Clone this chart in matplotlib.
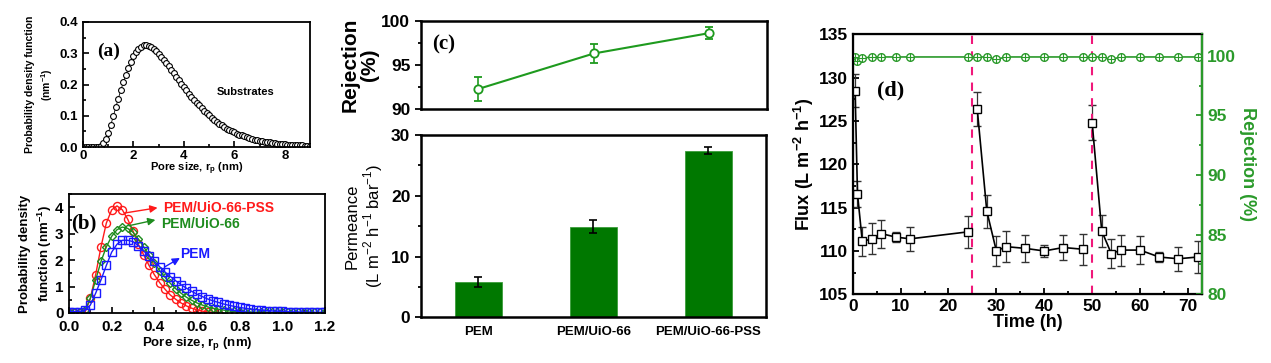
import matplotlib
matplotlib.use("Agg")
import matplotlib.pyplot as plt
from matplotlib.ticker import MultipleLocator
import numpy as np

plt.rcParams['font.family'] = ['Liberation Sans', 'DejaVu Sans']
plt.rcParams['mathtext.fontset'] = 'custom'
plt.rcParams['mathtext.rm'] = 'Liberation Sans'
plt.rcParams['mathtext.bf'] = 'Liberation Sans:bold'

# ---------------- data ----------------
# (a) substrates pore size distribution, r = 0.0 ... 9.0 step 0.1
a_r = [round(0.1 * i, 1) for i in range(91)]
a_pdf = [0.0, 0.0, 0.0, 0.0, 0.0, 0.0, 0.001,
         0.004, 0.012, 0.025, 0.045, 0.07, 0.098, 0.127, 0.155, 0.182, 0.207,
         0.23, 0.252, 0.272, 0.29, 0.304, 0.314, 0.321, 0.325, 0.325, 0.323,
         0.319, 0.313, 0.306, 0.298, 0.289, 0.279, 0.269, 0.258, 0.247, 0.236,
         0.225, 0.214, 0.203, 0.192, 0.181, 0.171, 0.161, 0.151, 0.142, 0.133,
         0.124, 0.116, 0.108, 0.101, 0.094, 0.087, 0.081, 0.075, 0.069, 0.064,
         0.059, 0.055, 0.051, 0.047, 0.043, 0.040, 0.037, 0.034, 0.031, 0.029,
         0.026, 0.024, 0.022, 0.020, 0.019, 0.017, 0.016, 0.015, 0.013, 0.012,
         0.011, 0.010, 0.009, 0.009, 0.008, 0.007, 0.007, 0.006, 0.006, 0.005,
         0.005, 0.004, 0.004, 0.004]

# (b) membranes pore size distributions, r = 0 ... 1.2 step 0.025
b_r = [round(0.025 * i, 3) for i in range(49)]
b_pss = [0.0, 0.0, 0.0, 0.02, 0.55, 1.45, 2.5, 3.4, 3.9, 4.05, 3.9, 3.55, 3.1,
         2.6, 2.2, 1.8, 1.45, 1.15, 0.9, 0.68, 0.52, 0.38, 0.27, 0.18, 0.12,
         0.07, 0.04, 0.02, 0.01]
b_uio = [0.05, 0.05, 0.05, 0.1, 0.55, 1.25, 1.95, 2.5, 2.9, 3.15, 3.25, 3.2,
         3.05, 2.8, 2.5, 2.2, 1.9, 1.6, 1.35, 1.12, 0.92, 0.75, 0.6, 0.48, 0.38,
         0.3, 0.23, 0.18, 0.14, 0.11, 0.08, 0.06, 0.05, 0.04, 0.04, 0.03, 0.03,
         0.03, 0.02, 0.02, 0.02, 0.02, 0.02, 0.02, 0.02, 0.02, 0.02, 0.02, 0.02]
b_pem = [0.05, 0.05, 0.05, 0.1, 0.3, 0.75, 1.25, 1.8, 2.3, 2.6, 2.75, 2.75,
         2.7, 2.55, 2.35, 2.15, 1.95, 1.75, 1.55, 1.38, 1.22, 1.07, 0.94, 0.82,
         0.71, 0.62, 0.53, 0.46, 0.4, 0.34, 0.29, 0.25, 0.21, 0.18, 0.15, 0.13,
         0.11, 0.09, 0.08, 0.07, 0.06, 0.05, 0.04, 0.04, 0.03, 0.03, 0.02, 0.02,
         0.02]

# (c) rejection and permeance
c_labels = ['PEM', 'PEM/UiO-66', 'PEM/UiO-66-PSS']
c_rej = [92.3, 96.3, 98.6]
c_rej_err = [1.4, 1.1, 0.7]
c_perm = [5.8, 14.9, 27.4]
c_perm_err = [0.8, 1.1, 0.6]

# (d) long-term flux and rejection; three cycles
d_t1 = [0.5, 1, 2, 4, 6, 9, 12, 24]
d_f1 = [128.5, 116.6, 111.1, 111.4, 112.0, 111.6, 111.4, 112.2]
d_e1 = [1.9, 1.5, 1.7, 1.8, 1.6, 0.6, 1.4, 1.8]
d_t2 = [26, 28, 30, 32, 36, 40, 44, 48]
d_f2 = [126.4, 114.6, 110.0, 110.5, 110.3, 110.0, 110.4, 110.2]
d_e2 = [2.0, 1.9, 1.7, 1.8, 1.6, 0.7, 1.4, 1.8]
d_t3 = [50, 52, 54, 56, 60, 64, 68, 72]
d_f3 = [124.8, 112.3, 109.7, 110.1, 110.1, 109.3, 109.1, 109.3]
d_e3 = [2.0, 1.8, 1.7, 1.8, 1.6, 0.6, 1.4, 1.8]
d_rt = d_t1 + d_t2 + d_t3
d_rej = [99.9, 99.6, 99.8, 99.9, 99.9, 99.9, 99.9, 99.9,
         99.9, 99.9, 99.7, 99.9, 99.9, 99.9, 99.9, 99.9,
         99.9, 99.9, 99.7, 99.9, 99.9, 99.9, 99.9, 99.9]
d_switch = [25, 50]

# ---------------- figure ----------------
W, H = 1271, 363
fig = plt.figure(figsize=(W / 100, H / 100), dpi=100)

def box(l, r, t, b):
    return [l / W, (H - b) / H, (r - l) / W, (b - t) / H]

serif = ['Liberation Serif', 'DejaVu Serif']
RED, GREEN, BLUE = '#ff1a1a', '#1e8c1e', '#1a1aff'

def style_ticks(ax, size, direction='in', width=1.2):
    ax.tick_params(which='both', direction=direction, labelsize=size, width=width)
    ax.tick_params(which='major', length=4)
    ax.tick_params(which='minor', length=2.5)
    for lab in ax.get_xticklabels() + ax.get_yticklabels():
        lab.set_fontweight('bold')

# ---- (a)
axa = fig.add_axes(box(83, 310, 22, 147))
axa.plot(a_r, a_pdf, '-', color='black', lw=0.6, marker='o', ms=4.2,
         mfc='white', mec='black', mew=0.8)
axa.set_xlim(0, 9)
axa.set_ylim(0, 0.4)
axa.set_xticks([0, 2, 4, 6, 8])
axa.set_yticks([0.0, 0.1, 0.2, 0.3, 0.4])
axa.yaxis.set_major_formatter(matplotlib.ticker.FormatStrFormatter('%.1f'))
axa.xaxis.set_minor_locator(MultipleLocator(1))
axa.yaxis.set_minor_locator(MultipleLocator(0.05))
style_ticks(axa, 9.5)
axa.tick_params(axis='x', pad=2)
for s in axa.spines.values():
    s.set_linewidth(1.3)
axa.set_xlabel('Pore size, r$_\\mathbf{p}$ (nm)', fontsize=8, fontweight='bold', labelpad=-1)
axa.set_ylabel('Probability density function\n(nm$^{\\mathbf{-1}}$)', fontsize=7.5,
               fontweight='bold', labelpad=3, linespacing=1.4)
axa.text(0.55, 0.307, '(a)', fontsize=14, fontweight='bold', family=serif, va='center')
axa.text(6.45, 0.175, 'Substrates', fontsize=8, fontweight='bold', ha='center', va='center')

# ---- (b)
axb = fig.add_axes(box(69, 325, 194, 313))
axb.plot(b_r[:len(b_pss)], b_pss, '-', color=RED, lw=1.0, marker='o', ms=5.8,
         mfc='none', mec=RED, mew=1.0)
axb.plot(b_r[:len(b_uio)], b_uio, '-', color=GREEN, lw=1.0, marker='D', ms=4.4,
         mfc='none', mec=GREEN, mew=1.0)
axb.plot(b_r[:len(b_pem)], b_pem, '-', color=BLUE, lw=1.0, marker='s', ms=5.8,
         mfc='none', mec=BLUE, mew=1.0)
axb.set_xlim(0, 1.2)
axb.set_ylim(0, 4.5)
axb.set_xticks(np.arange(0, 1.21, 0.2))
axb.xaxis.set_major_formatter(matplotlib.ticker.FormatStrFormatter('%.1f'))
axb.set_yticks([0, 1, 2, 3, 4])
axb.xaxis.set_minor_locator(MultipleLocator(0.1))
axb.yaxis.set_minor_locator(MultipleLocator(0.5))
style_ticks(axb, 11)
axb.tick_params(axis='x', pad=5)
axb.tick_params(axis='y', pad=4)
for s in axb.spines.values():
    s.set_linewidth(1.3)
axb.set_xlabel('Pore size, r$_\\mathbf{p}$ (nm)', fontsize=9.5, fontweight='bold', labelpad=1)
axb.set_ylabel('Probability density\nfunction (nm$^{\\mathbf{-1}}$)', fontsize=9.5,
               fontweight='bold', labelpad=1, linespacing=1.3)
axb.text(0.012, 3.4, '(b)', fontsize=15, fontweight='bold', family=serif, va='center')
ann = [('PEM/UiO-66-PSS', RED, (0.26, 3.78), (0.415, 3.98)),
       ('PEM/UiO-66', GREEN, (0.28, 3.3), (0.405, 3.52)),
       ('PEM', BLUE, (0.45, 1.75), (0.52, 2.08))]
for txt, col, p0, p1 in ann:
    axb.annotate('', xy=p1, xytext=p0,
                 arrowprops=dict(arrowstyle='-|>', color=col, lw=1.0,
                                 mutation_scale=11, shrinkA=0, shrinkB=0))
axb.text(0.44, 3.96, 'PEM/UiO-66-PSS', color=RED, fontsize=10, fontweight='bold', va='center')
axb.text(0.43, 3.37, 'PEM/UiO-66', color=GREEN, fontsize=10, fontweight='bold', va='center')
axb.text(0.523, 2.22, 'PEM', color=BLUE, fontsize=10, fontweight='bold', va='center')

# ---- (c) top: rejection
xc = np.arange(len(c_labels))
axc1 = fig.add_axes(box(420.7, 767, 20.7, 109.3))
axc1.errorbar(xc, c_rej, yerr=c_rej_err, color='#1e9a1e', lw=1.5, marker='o', ms=6,
              mfc='white', mec='#1e9a1e', mew=1.3, capsize=3, elinewidth=1.2, capthick=1.2)
axc1.set_xlim(-0.5, 2.5)
axc1.set_ylim(90, 100)
axc1.set_yticks([90, 95, 100])
axc1.yaxis.set_minor_locator(MultipleLocator(2.5))
axc1.set_xticks([])
style_ticks(axc1, 12.5, direction='out', width=1.3)
for s in axc1.spines.values():
    s.set_linewidth(1.8)
axc1.set_ylabel('Rejection\n(%)', fontsize=15, fontweight='bold', labelpad=2, linespacing=1.0)
axc1.text(-0.4, 97.3, '(c)', fontsize=15, fontweight='bold', family=serif, va='center')

# ---- (c) bottom: permeance
axc2 = fig.add_axes(box(420.7, 766, 135, 317.3))
axc2.bar(xc, c_perm, width=0.41, color='#007800', edgecolor='#3c9c3c', linewidth=0.6)
axc2.errorbar(xc, c_perm, yerr=c_perm_err, fmt='none', ecolor='black', elinewidth=1.2,
              capsize=3, capthick=1.2)
axc2.set_xlim(-0.5, 2.5)
axc2.set_ylim(0, 30)
axc2.set_yticks([0, 10, 20, 30])
axc2.yaxis.set_minor_locator(MultipleLocator(5))
axc2.set_xticks(xc)
axc2.set_xticklabels(c_labels)
style_ticks(axc2, 12.5, direction='out', width=1.3)
axc2.tick_params(axis='x', length=0, labelsize=9.5, pad=6)
for lab in axc2.get_xticklabels():
    lab.set_fontweight('bold')
for s in axc2.spines.values():
    s.set_linewidth(1.8)
axc2.set_ylabel('Permeance\n(L m$^{-2}$ h$^{-1}$ bar$^{-1}$)', fontsize=12, labelpad=4,
                linespacing=1.1)

# ---- (d)
axd = fig.add_axes(box(852.7, 1202.3, 34.3, 294.3))
for t, f, e in [(d_t1, d_f1, d_e1), (d_t2, d_f2, d_e2), (d_t3, d_f3, d_e3)]:
    axd.errorbar(t, f, yerr=e, color='black', lw=1.2, marker='s', ms=5.5, mfc='white',
                 mec='black', mew=1.0, capsize=3, elinewidth=0.9, capthick=0.9, ecolor='#333333')
for xs in d_switch:
    axd.axvline(xs, color='#f0187a', lw=1.5, ls=(0, (4, 3.5)))
axd.set_xlim(0, 73)
axd.set_ylim(105, 135)
axd.set_xticks(np.arange(0, 71, 10))
axd.xaxis.set_minor_locator(MultipleLocator(5))
axd.yaxis.set_minor_locator(MultipleLocator(2.5))
style_ticks(axd, 12.5, width=1.3)
for s in axd.spines.values():
    s.set_linewidth(1.6)
axd.set_xlabel('Time (h)', fontsize=13, fontweight='bold', labelpad=0)
axd.set_ylabel('Flux (L m$^{\\mathbf{-2}}$ h$^{\\mathbf{-1}}$)', fontsize=13,
               fontweight='bold', labelpad=2)
axd.text(5.1, 128.5, '(d)', fontsize=16, fontweight='bold', family=serif, va='center')

axr = axd.twinx()
DG = '#2a9a2a'
axr.plot(d_rt, d_rej, '-', color=DG, lw=1.2, marker='o', ms=5.5, mfc='white', mec=DG, mew=1.0)
axr.plot(d_rt, d_rej, 'none', marker='+', ms=5.5, mec=DG, mew=0.8)
axr.set_ylim(80, 101.8)
axr.set_yticks([80, 85, 90, 95, 100])
axr.yaxis.set_minor_locator(MultipleLocator(2.5))
axr.tick_params(which='both', direction='in', labelsize=12.5, width=1.3, colors=DG)
axr.tick_params(which='major', length=4)
axr.tick_params(which='minor', length=2.5)
for lab in axr.get_yticklabels():
    lab.set_fontweight('bold')
axr.spines['right'].set_color(DG)
axr.spines['right'].set_linewidth(1.6)
axr.set_ylabel('Rejection (%)', fontsize=13, fontweight='bold', color=DG, rotation=270,
               labelpad=14)

fig.savefig('out.png', dpi=100, facecolor='white')
